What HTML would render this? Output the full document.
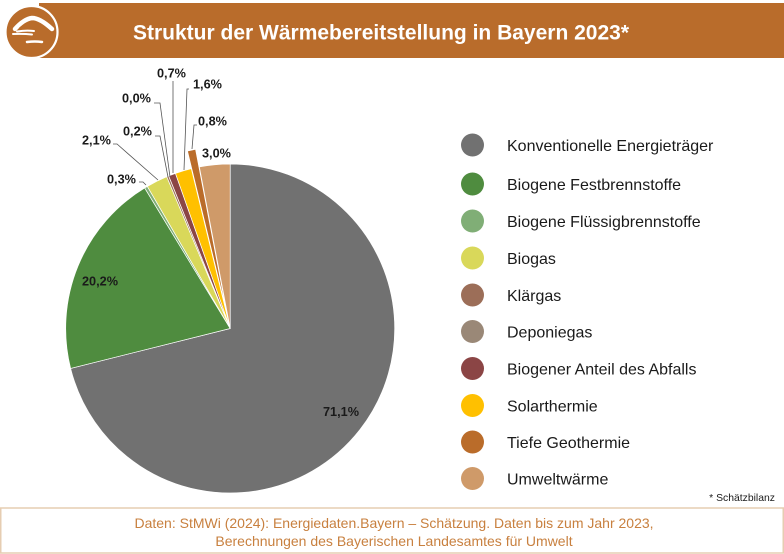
<!DOCTYPE html>
<html>
<head>
<meta charset="utf-8">
<style>
html,body{margin:0;padding:0;background:#fff;}
svg{display:block;}
text{font-family:"Liberation Sans",Arial,sans-serif;}
</style>
</head>
<body>
<svg width="784" height="554" viewBox="0 0 784 554" xmlns="http://www.w3.org/2000/svg">
  <rect width="784" height="554" fill="#fff"/>
  <!-- header -->
  <rect x="39" y="3" width="745" height="55" fill="#B96C2B"/>
  <circle cx="31.5" cy="32" r="26" fill="#B96C2B" stroke="#fff" stroke-width="2.2"/>
  <path d="M15,29 Q24,19 32,18 Q40,18 52,29" fill="none" stroke="#fff" stroke-width="4.5" stroke-linecap="round" stroke-linejoin="round"/>
  <path d="M20,28 Q27,22 32,22" fill="none" stroke="#B96C2B" stroke-width="1.6" stroke-linecap="round"/>
  <path d="M17,31.5 Q26,30 34,31" fill="none" stroke="#fff" stroke-width="2" stroke-linecap="round"/>
  <path d="M13,34 Q23,33.5 32,34.5" fill="none" stroke="#fff" stroke-width="2" stroke-linecap="round"/>
  <path d="M27,42 Q35,41 42,42" fill="none" stroke="#fff" stroke-width="2.5" stroke-linecap="round"/>
  <text x="381" y="39.5" text-anchor="middle" font-size="21" font-weight="bold" fill="#fff">Struktur der Wärmebereitstellung in Bayern 2023*</text>

  <!-- pie -->
  <g stroke="#fff" stroke-width="0.7">
    <path d="M230.2,328.5 L230.2,164 A164.5,164.5 0 1 1 70.61,368.41 Z" fill="#717171"/>
    <path d="M230.2,328.5 L70.61,368.41 A164.5,164.5 0 0 1 144.68,187.98 Z" fill="#4F8C3F"/>
    <path d="M230.2,328.5 L144.68,187.98 A164.5,164.5 0 0 1 147.35,186.39 Z" fill="#80AE76"/>
    <path d="M230.2,328.5 L147.35,186.39 A164.5,164.5 0 0 1 166.77,176.72 Z" fill="#D9D85A"/>
    <path d="M230.2,328.5 L166.77,176.72 A164.5,164.5 0 0 1 168.68,175.93 Z" fill="#9C6E58"/>
    <path d="M230.2,328.5 L168.68,175.93 A164.5,164.5 0 0 1 175.45,173.38 Z" fill="#8B4545"/>
    <path d="M230.2,328.5 L175.45,173.38 A164.5,164.5 0 0 1 191.30,168.67 Z" fill="#FFC000"/>
    <path d="M230.2,328.5 L199.38,166.91 A164.5,164.5 0 0 1 230.2,164 Z" fill="#CF9A69"/>
    <path d="M226.38,310.91 L187.48,151.08 A164.5,164.5 0 0 1 195.56,149.32 Z" fill="#BA6C2A"/>
  </g>

  <!-- leader lines -->
  <g fill="none" stroke="#555" stroke-width="0.8">
    <polyline points="113,144 117,144 158,180"/>
    <polyline points="155,136 160,136 168,177"/>
    <polyline points="154,103 160,103 170,177"/>
    <polyline points="139,182 143,182 146,185"/>
    <polyline points="173,81 173,173"/>
    <polyline points="189,89 187,89 184,170"/>
    <polyline points="197,125 194,125 192,149"/>
  </g>

  <!-- data labels -->
  <g font-size="12.7" font-weight="bold" fill="#1a1a1a">
    <text x="323" y="416">71,1%</text>
    <text x="82" y="285.5">20,2%</text>
    <text x="107" y="183.5">0,3%</text>
    <text x="82" y="144.5">2,1%</text>
    <text x="123" y="135.5">0,2%</text>
    <text x="122" y="102.5">0,0%</text>
    <text x="157" y="77.5">0,7%</text>
    <text x="193" y="88.5">1,6%</text>
    <text x="198" y="125.5">0,8%</text>
    <text x="202" y="157.5">3,0%</text>
  </g>

  <!-- legend -->
  <g>
    <circle cx="472.5" cy="145" r="11.5" fill="#717171"/>
    <circle cx="472.5" cy="184" r="11.5" fill="#4F8C3F"/>
    <circle cx="472.5" cy="221" r="11.5" fill="#80AE76"/>
    <circle cx="472.5" cy="258" r="11.5" fill="#D9D85A"/>
    <circle cx="472.5" cy="295" r="11.5" fill="#9C6E58"/>
    <circle cx="472.5" cy="331.5" r="11.5" fill="#9A8877"/>
    <circle cx="472.5" cy="368.5" r="11.5" fill="#8B4545"/>
    <circle cx="472.5" cy="405.5" r="11.5" fill="#FFC000"/>
    <circle cx="472.5" cy="442" r="11.5" fill="#BA6C2A"/>
    <circle cx="472.5" cy="478.5" r="11.5" fill="#CF9A69"/>
  </g>
  <g font-size="16" fill="#1a1a1a">
    <text x="507" y="151">Konventionelle Energieträger</text>
    <text x="507" y="190">Biogene Festbrennstoffe</text>
    <text x="507" y="227">Biogene Flüssigbrennstoffe</text>
    <text x="507" y="264">Biogas</text>
    <text x="507" y="301">Klärgas</text>
    <text x="507" y="337.5">Deponiegas</text>
    <text x="507" y="374.5">Biogener Anteil des Abfalls</text>
    <text x="507" y="411.5">Solarthermie</text>
    <text x="507" y="448">Tiefe Geothermie</text>
    <text x="507" y="484.5">Umweltwärme</text>
  </g>

  <text x="775" y="501" text-anchor="end" font-size="10.4" fill="#1a1a1a">* Schätzbilanz</text>

  <!-- footer -->
  <rect x="0.75" y="508" width="782.5" height="45" fill="#fff" stroke="#E6CDB2" stroke-width="1.5"/>
  <text x="394" y="528" text-anchor="middle" font-size="14" fill="#C8803F">Daten: StMWi (2024): Energiedaten.Bayern – Schätzung. Daten bis zum Jahr 2023,</text>
  <text x="394" y="546" text-anchor="middle" font-size="14" fill="#C8803F">Berechnungen des Bayerischen Landesamtes für Umwelt</text>
</svg>
</body>
</html>
